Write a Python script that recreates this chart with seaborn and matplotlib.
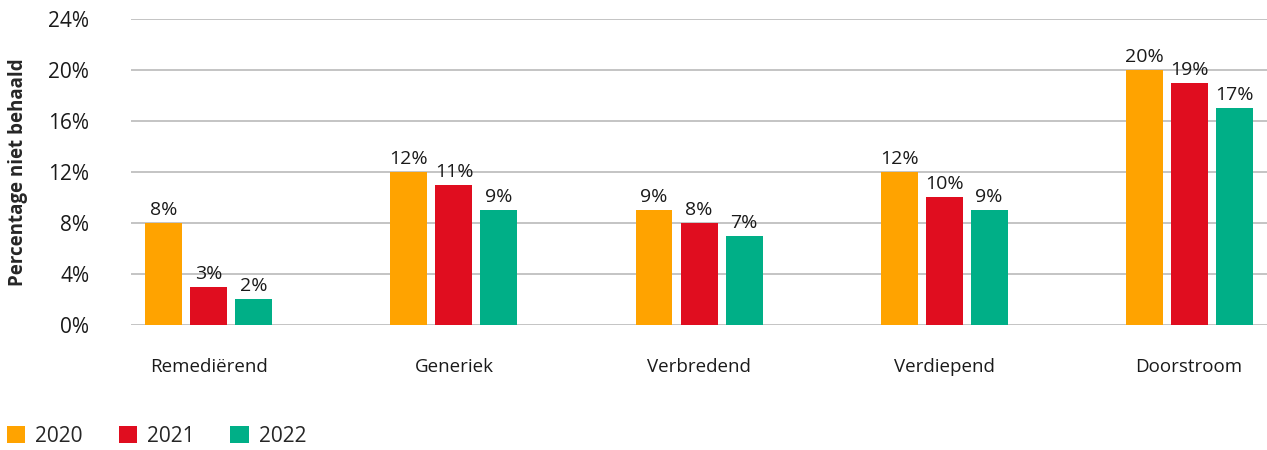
import pandas as pd
import numpy as np
import matplotlib.pyplot as plt
import seaborn as sns

categories = ['Remediërend', 'Generiek', 'Verbredend', 'Verdiepend', 'Doorstroom']
years = ['2020', '2021', '2022']
values_2020 = [8, 12, 9, 12, 20]
values_2021 = [3, 11, 8, 10, 19]
values_2022 = [2, 9, 7, 9, 17]
y_ticks = [0, 4, 8, 12, 16, 20, 24]

COLORS = ['#FFA300', '#E00D1F', '#00AF87']

data = pd.DataFrame({
    'Categorie': categories * 3,
    'Jaar': [y for y in years for _ in categories],
    'Waarde': values_2020 + values_2021 + values_2022,
})

sns.set_theme(style='white')
plt.rcParams['font.family'] = ['Open Sans', 'DejaVu Sans']

fig = plt.figure(figsize=(12.67, 4.5), dpi=100)
ax = fig.add_axes([0.1034, 0.2778, 0.8966, 0.68])

sns.barplot(data=data, x='Categorie', y='Waarde', hue='Jaar', palette=COLORS,
            width=0.551, gap=0.178, saturation=1, linewidth=0, ax=ax, zorder=3)

for container in ax.containers:
    ax.bar_label(container, labels=[f'{int(v)}%' for v in container.datavalues],
                 padding=3, fontsize=14, color='#1a1a1a')

ax.set_ylim(0, 24)
ax.set_xlim(-0.318, 4.318)
ax.set_yticks(y_ticks)
ax.set_yticklabels([f'{t}%' for t in y_ticks])
ax.grid(True, axis='y', color='#BFBFBF', linewidth=1.3, zorder=0)
ax.set_axisbelow(True)
for s in ax.spines.values():
    s.set_visible(False)

ax.tick_params(axis='y', labelsize=15, pad=30, length=0, labelcolor='#1a1a1a')
ax.tick_params(axis='x', labelsize=13.5, pad=24, length=0, labelcolor='#1a1a1a')
ax.set_xlabel('')
ax.set_ylabel('Percentage niet behaald', fontsize=13.5, fontweight='bold')
ax.yaxis.set_label_coords(-0.091, 0.5)

handles, labels = ax.get_legend_handles_labels()
ax.legend_.remove()
fig.legend(handles, labels, loc='lower left', bbox_to_anchor=(7 / 1267, 3 / 450), ncol=3,
           frameon=False, fontsize=15, handlelength=0.87, handleheight=0.87,
           handletextpad=0.48, columnspacing=1.73, borderaxespad=0, borderpad=0)

plt.savefig('out.png', dpi=100)
